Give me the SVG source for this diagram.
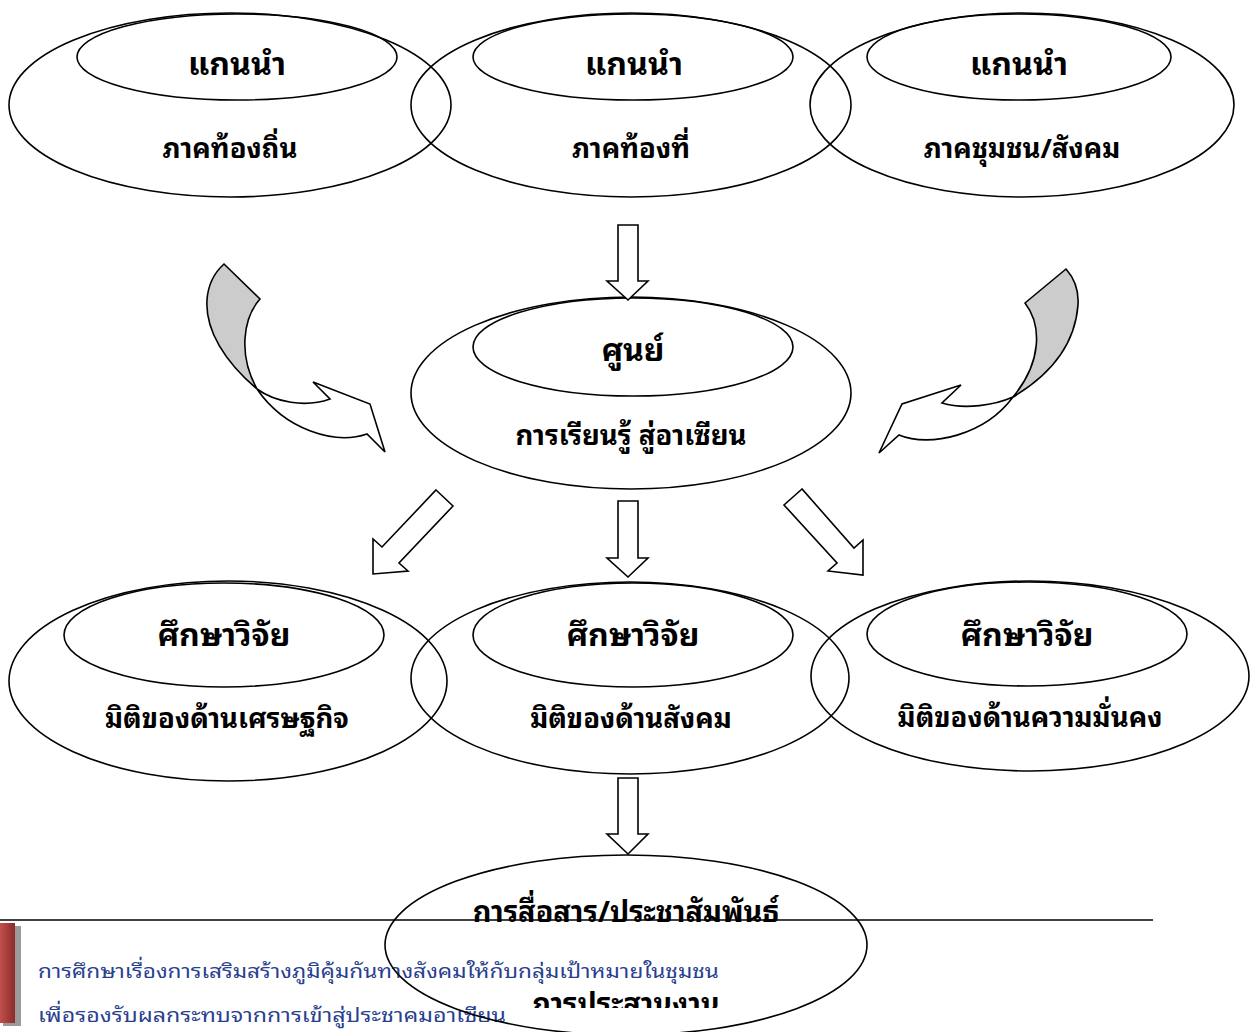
<svg xmlns="http://www.w3.org/2000/svg" width="1259" height="1032" viewBox="0 0 1259 1032">
<defs>
<style>
.e{fill:none;stroke:#000;stroke-width:1.6}
.t{font-family:"Noto Sans Thai Looped","Loma","Garuda","Tahoma","Noto Sans Thai","Noto Sans","DejaVu Sans",sans-serif;font-weight:bold;font-size:27.5px;fill:#000;text-anchor:middle}
.h{font-size:32px}
.c{font-size:28.8px}
.a{fill:#fff;stroke:#000;stroke-width:1.6;stroke-linejoin:miter}
.g{fill:#cccccc;stroke:#000;stroke-width:1.6}
.b{font-family:"Noto Sans Thai Looped","Loma","Garuda","Tahoma","Noto Sans Thai","Noto Sans","DejaVu Sans",sans-serif;font-size:20px;fill:#2a3f8f}
</style>
<linearGradient id="red" x1="0" y1="0" x2="1" y2="0">
<stop offset="0" stop-color="#c0504d"/>
<stop offset="1" stop-color="#8c2b29"/>
</linearGradient>
<clipPath id="cb"><rect x="0" y="0" width="1259" height="1008"/></clipPath>
</defs>
<rect width="1259" height="1032" fill="#fff"/>

<g id="footer">
<rect x="3" y="926" width="18" height="100" fill="#9a9a9a"/>
<rect x="0" y="923" width="15" height="100" fill="url(#red)"/>
<line x1="0" y1="920" x2="1153" y2="920" stroke="#000" stroke-width="1.6"/>
<text class="b" x="38" y="978" textLength="681" lengthAdjust="spacingAndGlyphs">การศึกษาเรื่องการเสริมสร้างภูมิคุ้มกันทางสังคมให้กับกลุ่มเป้าหมายในชุมชน</text>
<text class="b" x="38" y="1022" textLength="468" lengthAdjust="spacingAndGlyphs">เพื่อรองรับผลกระทบจากการเข้าสู่ประชาคมอาเซียน</text>
</g>

<g id="node-local">
<ellipse class="e" cx="230" cy="105" rx="221" ry="92"/>
<ellipse class="e" cx="237" cy="57" rx="160" ry="43"/>
<text class="t h" x="237" y="75">แกนนำ</text>
<text class="t" x="230" y="158">ภาคท้องถิ่น</text>
</g>
<g id="node-area">
<ellipse class="e" cx="631" cy="105" rx="220" ry="92"/>
<ellipse class="e" cx="633" cy="57" rx="160" ry="43"/>
<text class="t h" x="634" y="75">แกนนำ</text>
<text class="t" x="631" y="158">ภาคท้องที่</text>
</g>
<g id="node-community">
<ellipse class="e" cx="1022" cy="105" rx="212" ry="92"/>
<ellipse class="e" cx="1019" cy="57" rx="152" ry="43"/>
<text class="t h" x="1019" y="75">แกนนำ</text>
<text class="t" x="1022" y="158">ภาคชุมชน/สังคม</text>
</g>

<g id="node-center">
<ellipse class="e" cx="631" cy="393" rx="220" ry="96"/>
<ellipse class="e" cx="633" cy="347" rx="160" ry="49"/>
<text class="t h" x="633" y="361">ศูนย์</text>
<text class="t" x="631" y="445">การเรียนรู้ สู่อาเซียน</text>
</g>

<g id="node-economy">
<ellipse class="e" cx="228" cy="681" rx="219" ry="100"/>
<ellipse class="e" cx="224" cy="635" rx="160" ry="52"/>
<text class="t h" x="224" y="646">ศึกษาวิจัย</text>
<text class="t" x="227" y="728">มิติของด้านเศรษฐกิจ</text>
</g>
<g id="node-society">
<ellipse class="e" cx="630" cy="678" rx="219" ry="96"/>
<ellipse class="e" cx="633" cy="635" rx="160" ry="52"/>
<text class="t h" x="633" y="646">ศึกษาวิจัย</text>
<text class="t" x="631" y="728">มิติของด้านสังคม</text>
</g>
<g id="node-security">
<ellipse class="e" cx="1030" cy="676" rx="219" ry="95"/>
<ellipse class="e" cx="1027" cy="634" rx="160" ry="52"/>
<text class="t h" x="1027" y="646">ศึกษาวิจัย</text>
<text class="t" x="1030" y="727">มิติของด้านความมั่นคง</text>
</g>

<g id="node-communication">
<ellipse class="e" cx="626" cy="945" rx="241" ry="90"/>
<text class="t c" x="626" y="922">การสื่อสาร/ประชาสัมพันธ์</text>
<text class="t c" x="626" y="1014" clip-path="url(#cb)">การประสานงาน</text>
</g>

<g id="connectors">
<polygon class="a" points="618,225 638,225 638,281 648,281 628,300 607,281 618,281"/>
<polygon class="a" points="618,501 638,501 638,558 648,558 628,577 607,558 618,558"/>
<polygon class="a" points="618,778 638,778 638,834 648,834 628,854 607,834 618,834"/>
<polygon class="a" points="436,490 453,506 399,563 408,571 373,574 373,539 382,547"/>
<polygon class="a" points="802,489 784,505 837,563 828,571 863,575 863,540 854,548"/>
<path class="g" d="M224,264 L260,299 C243,318 238,355 257,389 C225,362 205,330 207,300 C208,285 214,273 224,264 Z"/>
<path class="a" d="M257,389 C275,402 305,408 330,399 L313,382 L370,404 L385,452 L367,434 C335,445 285,430 257,389 Z"/>
<path class="g" d="M1066,269 L1025,303 C1042,325 1042,362 1013,397 C1050,375 1075,345 1078,305 C1079,290 1074,278 1066,269 Z"/>
<path class="a" d="M1013,397 C995,405 965,410 942,403 L961,385 L902,404 L879,453 L899,435 C930,448 985,435 1013,397 Z"/>
</g>
</svg>
